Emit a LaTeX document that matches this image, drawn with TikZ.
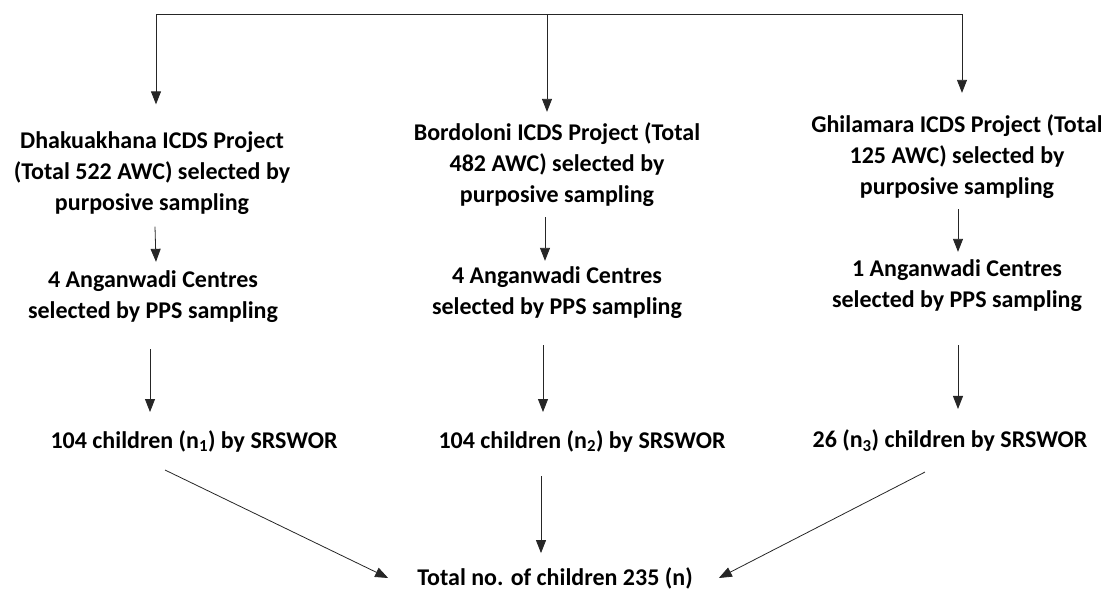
\documentclass[tikz,border=0pt]{standalone}
\usepackage{fontspec}
\setmainfont{Carlito}
\usetikzlibrary{arrows.meta}
\tikzset{
  txt/.style={align=center, inner sep=0pt, font=\bfseries\fontsize{24}{31}\selectfont},
  arr/.style={-{Triangle[length=13pt,width=10pt]}, draw=black!85, line width=0.8pt},
}
\begin{document}
\begin{tikzpicture}[x=1pt,y=-1pt]
        \useasboundingbox (0,0) rectangle (1101,590);

        % projects
        \node[txt] (d1) at (152,173) {Dhakuakhana ICDS Project\\(Total 522 AWC) selected by\\purposive sampling};
        \node[txt] (b1) at (557,165) {Bordoloni ICDS Project (Total\\482 AWC) selected by\\purposive sampling};
        \node[txt] (g1) at (957,157) {Ghilamara ICDS Project (Total\\125 AWC) selected by\\purposive sampling};

        % centres
        \node[txt] (d2) at (153,297) {4 Anganwadi Centres\\selected by PPS sampling};
        \node[txt] (b2) at (557,293) {4 Anganwadi Centres\\selected by PPS sampling};
        \node[txt] (g2) at (957,286) {1 Anganwadi Centres\\selected by PPS sampling};

        % children
        \node[txt] (d3) at (194,441) {104 children (n\textsubscript{1}) by SRSWOR};
        \node[txt] (b3) at (582,441) {104 children (n\textsubscript{2}) by SRSWOR};
        \node[txt] (g3) at (950,441) {26 (n\textsubscript{3}) children by SRSWOR};

        \node[txt] (tot) at (555,578) {Total no. of children 235 (n)};

        \coordinate (topL) at (156,14);
        \coordinate (topM) at (547,14);
        \coordinate (topR) at (962,14);

        \draw[draw=black!85, line width=0.8pt] (topL) -- (topR);
        \draw[arr] (topL) -- ([yshift=27pt]d1.north -| topL);
        \draw[arr] (topM) -- ([yshift=11pt]b1.north -| topM);
        \draw[arr] (topR) -- ([yshift=22pt]g1.north -| topR);

        \draw[arr] ([xshift=3pt,yshift=-12pt]d1.south) -- ([xshift=3pt,yshift=9pt]d2.north);
        \draw[arr] ([xshift=-12pt,yshift=-10pt]b1.south) -- ([xshift=-12pt,yshift=6pt]b2.north);
        \draw[arr] ([xshift=1pt,yshift=-10pt]g1.south) -- ([xshift=1pt,yshift=8pt]g2.north);

        \draw[arr] ([xshift=-3pt,yshift=-26pt]d2.south) -- ([xshift=-3pt,yshift=18pt]d2.south |- d3.north);
        \draw[arr] ([xshift=-14pt,yshift=-26pt]b2.south) -- ([xshift=-14pt,yshift=18pt]b2.south |- b3.north);
        \draw[arr] ([xshift=1pt,yshift=-33pt]g2.south) -- ([xshift=1pt,yshift=21pt]g2.south |- g3.north);

        \draw[arr] ([xshift=-29pt,yshift=-18pt]d3.south) -- ([xshift=-29pt]tot.west);
        \draw[arr] ([xshift=-41pt,yshift=-24pt]b3.south) -- ([xshift=-14pt,yshift=14pt]tot.north);
        \draw[arr] ([xshift=-25pt,yshift=-20pt]g3.south) -- ([xshift=26pt]tot.east);
      \end{tikzpicture}
\end{document}
